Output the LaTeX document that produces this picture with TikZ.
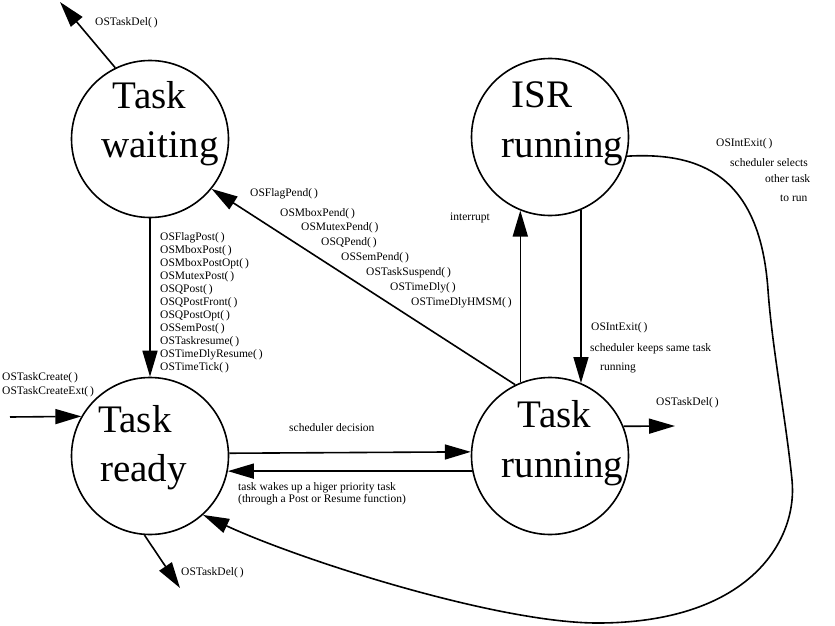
\documentclass[tikz,border=0pt]{standalone}
\usepackage{fontspec}
\setmainfont{Liberation Serif}
\usetikzlibrary{arrows.meta}
\newcommand\lblfont{\fontsize{11.5}{13}\selectfont}
\newcommand\bigfont{\fontsize{39}{39}\selectfont}
\begin{document}
\begin{tikzpicture}[x=1pt,y=-1pt,
  state/.style={circle,draw,line width=1.6pt,minimum size=157pt,inner sep=0pt},
  big/.style={font=\bigfont,inner sep=0pt,anchor=base},
  lbl/.style={font=\lblfont,inner sep=0pt,anchor=west},
  arr/.style={line width=1.6pt,-{Triangle[length=26pt,width=15pt]}}]
\useasboundingbox (0,0) rectangle (835,626);
% states
\node[state] (wait) at (150,139) {};
\node[state] (isr) at (550,137) {};
\node[state] (ready) at (150,456) {};
\node[state] (run) at (550,456) {};
% state texts
\node[big] (wait1) at (149.5,108) {Task};
\node[big] (wait2) at (160,157) {waiting};
\node[big] (isr1) at (542,107) {ISR};
\node[big] (isr2) at (562.5,157) {running};
\node[big] (ready1) at (135,432) {Task};
\node[big] (ready2) at (143.5,481) {ready};
\node[big] (run1) at (554.5,427) {Task};
\node[big] (run2) at (562.5,477) {running};
% free ends
\coordinate (delTop) at (60,2);
\coordinate (delRight) at (675,426);
\coordinate (delBottom) at (180,588);
\coordinate (entry) at (10,417);
% connectors
\draw[arr] (wait.116) -- (delTop);
\draw[arr] (wait.south) -- (ready.north);
\draw[arr] (run.116) -- (wait.-39);
\draw[arr] (run.112.6) -- (isr.-112.6);
\draw[arr] (isr.-67.4) -- (run.67.4);
\draw[arr] (ready.2.9) -- (run.177.1);
\draw[arr] (run.-169) -- (ready.-11);
\draw[arr] (run.22.5) -- (delRight);
\draw[arr] (entry) -- (ready.150);
\draw[arr] (ready.-94) -- (delBottom);
\draw[arr] (isr.-14) .. controls (700,152) and (760,175) .. (768,290)
   .. controls (772,347) and (786,420) .. (792,480)
   .. controls (798,540) and (750,622) .. (600,623)
   .. controls (500,624) and (300,560) .. (ready.-48);
% labels
\node[lbl] (l1) at (95,23) {OSTaskDel(\,)};
\node[lbl] (l2) at (250,194) {OSFlagPend(\,)};
\node[lbl] (l3) at (280,214) {OSMboxPend(\,)};
\node[lbl] (l4) at (301,228) {OSMutexPend(\,)};
\node[lbl] (l5) at (321,243) {OSQPend(\,)};
\node[lbl] (l6) at (341,258) {OSSemPend(\,)};
\node[lbl] (l7) at (366,273) {OSTaskSuspend(\,)};
\node[lbl] (l8) at (390,288) {OSTimeDly(\,)};
\node[lbl] (l9) at (411,303) {OSTimeDlyHMSM(\,)};
\foreach \t [count=\i] in {OSFlagPost(\,),OSMboxPost(\,),OSMboxPostOpt(\,),OSMutexPost(\,),OSQPost(\,),OSQPostFront(\,),OSQPostOpt(\,),OSSemPost(\,),OSTaskresume(\,),OSTimeDlyResume(\,),OSTimeTick(\,)}
  \node[lbl] (p\i) at (160,{238+13*(\i-1)}) {\t};
\node[lbl] (int) at (450,218) {interrupt};
\node[lbl] (x1) at (716,144) {OSIntExit(\,)};
\node[lbl] (x2) at (730,163) {scheduler selects};
\node[lbl] (x3) at (765,179) {other task};
\node[lbl] (x4) at (780,198) {to run};
\node[lbl] (k1) at (591,328) {OSIntExit(\,)};
\node[lbl] (k2) at (590,349) {scheduler keeps same task};
\node[lbl] (k3) at (600,368) {running};
\node[lbl] (d2) at (656,403) {OSTaskDel(\,)};
\node[lbl] (c1) at (2,378) {OSTaskCreate(\,)};
\node[lbl] (c2) at (2,392) {OSTaskCreateExt(\,)};
\node[lbl] (d3) at (181,573) {OSTaskDel(\,)};
\node[lbl] (sd) at (289,428) {scheduler decision};
\node[lbl] (w1) at (238,488) {task wakes up a higer priority task};
\node[lbl] (w2) at (238,500) {(through a Post or Resume function)};
\end{tikzpicture}
\end{document}
